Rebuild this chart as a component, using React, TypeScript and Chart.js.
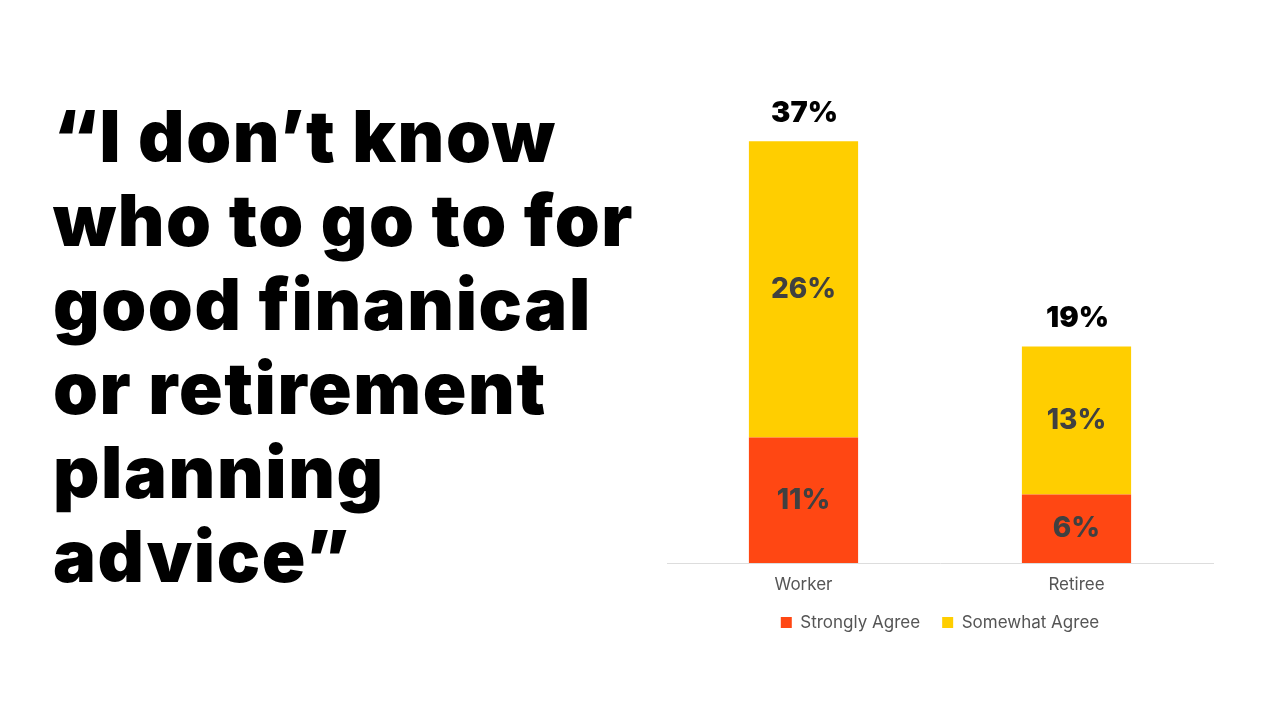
import React, { useEffect, useRef } from "react";
import { Chart, registerables } from "chart.js";

Chart.register(...registerables);

const categories = ["Worker", "Retiree"];
const strongly = [11, 6];
const somewhat = [26, 13];
const totals = [37, 19];
const seriesNames = ["Strongly Agree", "Somewhat Agree"];
const quoteLines = [
  "\u201cI don\u2019t know",
  "who to go to for",
  "good finanical",
  "or retirement",
  "planning",
  "advice\u201d",
];

const ORANGE = "#FF4713";
const YELLOW = "#FFCE00";

const labelPlugin = {
  id: "valueLabels",
  afterDatasetsDraw(chart: any) {
    const ctx = chart.ctx;
    ctx.save();
    ctx.textAlign = "center";
    ctx.textBaseline = "middle";
    chart.data.datasets.forEach((ds: any, di: number) => {
      const meta = chart.getDatasetMeta(di);
      meta.data.forEach((bar: any, i: number) => {
        const mid = (bar.y + bar.base) / 2;
        ctx.font = "800 28px Inter";
        ctx.fillStyle = "#404040";
        ctx.fillText(ds.data[i] + "%", bar.x, mid);
      });
    });
    const top = chart.getDatasetMeta(chart.data.datasets.length - 1);
    top.data.forEach((bar: any, i: number) => {
      ctx.font = "900 29px Inter";
      ctx.fillStyle = "#000000";
      ctx.fillText(totals[i] + "%", bar.x + 1, bar.y - 28);
    });
    ctx.restore();
  },
};

export default function App() {
  const ref = useRef<HTMLCanvasElement | null>(null);
  useEffect(() => {
    if (!ref.current) return;
    const chart = new Chart(ref.current, {
      type: "bar",
      data: {
        labels: categories,
        datasets: [
          { label: seriesNames[0], data: strongly, backgroundColor: ORANGE },
          { label: seriesNames[1], data: somewhat, backgroundColor: YELLOW },
        ],
      },
      options: {
        animation: false,
        responsive: false,
        maintainAspectRatio: false,
        layout: { padding: { left: 17, right: 17, top: 47, bottom: 0 } },
        datasets: { bar: { barPercentage: 0.4, categoryPercentage: 1 } },
        scales: {
          x: {
            stacked: true,
            grid: { display: false },
            border: { display: true, color: "#dddddd", width: 1 },
            ticks: { color: "#555555", font: { family: "Inter", size: 17 }, padding: 4 },
            afterFit: (scale: any) => {
              scale.height = 29;
            },
          },
          y: {
            stacked: true,
            display: false,
            min: 0,
            max: 40,
          },
        },
        plugins: {
          legend: {
            position: "bottom",
            labels: {
              color: "#555555",
              font: { family: "Inter", size: 17 },
              boxWidth: 11,
              boxHeight: 11,
              padding: 22,
            },
          },
          tooltip: { enabled: false },
        },
      },
      plugins: [labelPlugin],
    });
    return () => chart.destroy();
  }, []);

  return (
    <div style={{ position: "relative", width: 1264, height: 704, background: "#fff" }}>
      <div
        style={{
          position: "absolute",
          left: 45,
          top: 86,
          fontFamily: "Inter",
          fontWeight: 900,
          fontSize: 72,
          lineHeight: "84px",
          color: "#000",
          letterSpacing: "1.6px",
          whiteSpace: "nowrap",
        }}
      >
        {quoteLines.map((l, i) => (
          <div key={i}>{l}</div>
        ))}
      </div>
      <canvas
        ref={ref}
        width={580}
        height={581}
        style={{ position: "absolute", left: 642, top: 52, width: 580, height: 581 }}
      />
    </div>
  );
}
